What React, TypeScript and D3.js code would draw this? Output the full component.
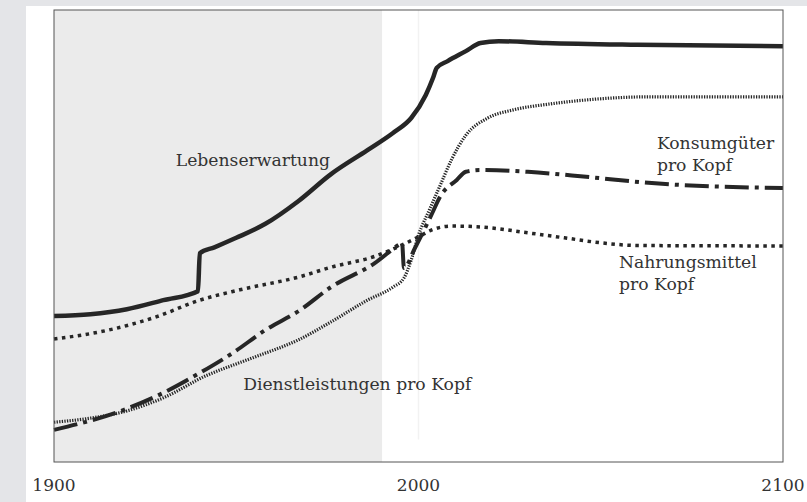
import React from 'react'
import * as d3 from 'd3'

// values, index scale 0..100
const lifeYears = [1900, 1910, 1920, 1930, 1939.5, 1940, 1944, 1950, 1958, 1967, 1976, 1986, 1993, 1998, 2002, 2004, 2005, 2008, 2013, 2017, 2022, 2035, 2060, 2100]
const lifeValues = [32.3, 32.7, 33.8, 35.8, 37.8, 46.2, 47.5, 49.6, 52.7, 57.7, 63.7, 69.0, 72.8, 76.1, 81.2, 85.0, 87.2, 88.7, 90.9, 92.7, 93.1, 92.7, 92.3, 92.0]

const serviceYears = [1900, 1910, 1920, 1930, 1942, 1950, 1956, 1967, 1976, 1986, 1993, 1996, 1998, 2000, 2003, 2006, 2009, 2013, 2019, 2026, 2036, 2046, 2064, 2100]
const serviceValues = [8.8, 9.7, 11.3, 14.2, 19.2, 21.7, 23.5, 27.0, 31.0, 35.8, 38.7, 40.7, 44.7, 50.2, 55.8, 61.3, 66.8, 72.3, 76.1, 77.9, 79.2, 80.1, 80.8, 80.8]

const goodsYears = [1900, 1919, 1930, 1940, 1949, 1958, 1967.5, 1976, 1988, 1994.5, 1995.5, 1996, 1999, 2003.5, 2006, 2010.5, 2013, 2017, 2030, 2046, 2064, 2100]
const goodsValues = [7.1, 11.5, 15.3, 19.7, 24.1, 29.2, 33.6, 38.7, 44.0, 48.0, 48.5, 42.9, 47.3, 54.6, 58.8, 62.4, 64.2, 64.6, 64.2, 63.1, 61.7, 60.6]

const foodYears = [1900, 1915, 1928, 1940, 1951, 1967.5, 1976, 1988, 1993, 2000, 2003.5, 2009, 2017, 2030, 2040, 2050, 2060, 2100]
const foodValues = [27.2, 29.2, 32.1, 35.8, 38.1, 41.0, 43.1, 45.5, 47.1, 49.8, 51.3, 52.2, 52.0, 50.7, 49.6, 48.5, 47.9, 47.8]

const tickYears = [1900, 2000, 2100]
const shadeYears = [1900, 1990]

const labels = [
  { lines: ['Lebenserwartung'], year: 1933.4, value: 65.5 },
  { lines: ['Konsumgüter', 'pro Kopf'], year: 2065.4, value: 69.2 },
  { lines: ['Nahrungsmittel', 'pro Kopf'], year: 2055, value: 42.9 },
  { lines: ['Dienstleistungen pro Kopf'], year: 1951.9, value: 15.9 },
]

const W = 807
const H = 502
const margin = { left: 54, top: 10, right: 24, bottom: 40 }

export default function App() {
  const x = d3.scaleLinear().domain([1900, 2100]).range([margin.left, W - margin.right])
  const y = d3.scaleLinear().domain([0, 100]).range([H - margin.bottom, margin.top])

  const mk = (ys: number[], vs: number[]) =>
    d3.line<number>().x((d, i) => x(ys[i])).y((d) => y(d)).curve(d3.curveMonotoneX)(vs) || ''

  const ink = '#262626'

  return (
    <svg width={W} height={H} style={{ position: 'absolute', left: 0, top: 0 }}>
      <rect x={0} y={0} width={W} height={H} fill="#e4e5e8" />
      <rect x={26} y={6} width={W - 26} height={H - 6} fill="#ffffff" />
      <rect x={x(shadeYears[0])} y={y(100)} width={x(shadeYears[1]) - x(shadeYears[0])} height={y(0) - y(100)} fill="#ebebeb" />
      <line x1={x(2000)} x2={x(2000)} y1={y(100)} y2={y(5)} stroke="#f2f2f2" strokeWidth={1.5} />

      <path d={mk(serviceYears, serviceValues)} fill="none" stroke={ink} strokeWidth={3.2} strokeDasharray="1.3 1.3" />
      <path d={mk(foodYears, foodValues)} fill="none" stroke={ink} strokeWidth={3.5} strokeDasharray="3.5 4.5" />
      <path d={mk(goodsYears, goodsValues)} fill="none" stroke={ink} strokeWidth={4} strokeDasharray="24 6 4 6" />
      <path d={mk(lifeYears, lifeValues)} fill="none" stroke={ink} strokeWidth={4.5} strokeLinejoin="round" />

      <rect x={x(1900)} y={y(100)} width={x(2100) - x(1900)} height={y(0) - y(100)} fill="none" stroke="#555" strokeWidth={1} />

      {labels.map((l) => (
        <text key={l.lines[0]} x={x(l.year)} y={y(l.value)} fontFamily="DejaVu Serif" fontSize={17.2} fill="#333">
          {l.lines.map((t, i) => (
            <tspan key={t} x={x(l.year)} dy={i === 0 ? 0 : 22}>{t}</tspan>
          ))}
        </text>
      ))}

      {tickYears.map((t) => (
        <text key={t} x={x(t)} y={491} textAnchor="middle" fontFamily="DejaVu Serif" fontSize={17} fill="#333">{t}</text>
      ))}
    </svg>
  )
}
